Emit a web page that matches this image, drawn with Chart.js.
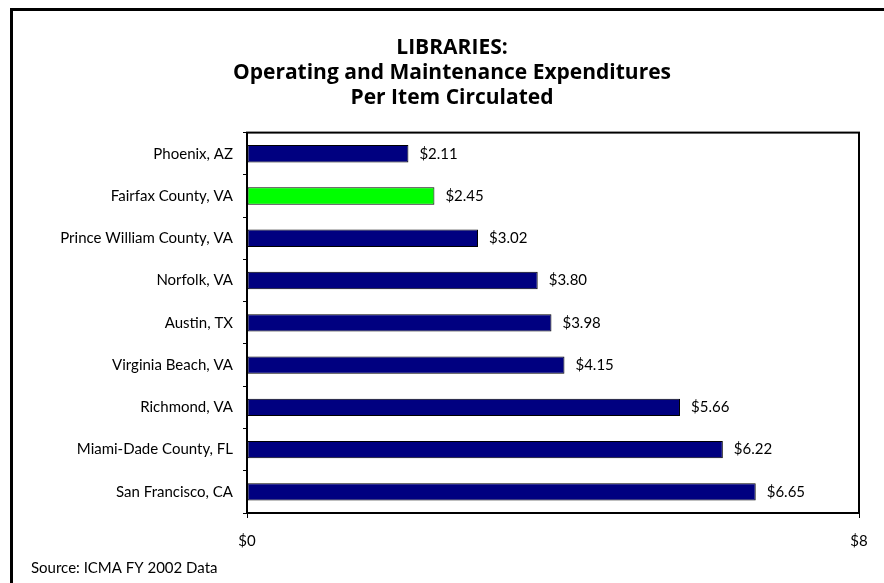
<!DOCTYPE html>
<html>
<head>
<meta charset="utf-8">
<title>Libraries: O&amp;M Expenditures per Item Circulated</title>
<script src="https://cdn.jsdelivr.net/npm/chart.js@4/dist/chart.umd.min.js"></script>
<style>
  html, body { margin: 0; padding: 0; background: #fff; }
  #wrap { width: 884px; height: 583px; position: relative; }
</style>
</head>
<body>
<div id="wrap"><canvas id="libraries_cost"></canvas></div>
<script>
const cities = ['Phoenix, AZ', 'Fairfax County, VA', 'Prince William County, VA', 'Norfolk, VA',
    'Austin, TX', 'Virginia Beach, VA', 'Richmond, VA', 'Miami-Dade County, FL', 'San Francisco, CA'];
const costPerItem = [2.11, 2.45, 3.02, 3.80, 3.98, 4.15, 5.66, 6.22, 6.65];
const highlightCity = 'Fairfax County, VA';
const axisTicks = [0, 8];

const FONT = 'Lato, "Open Sans", sans-serif';
const TITLE_FONT = '"Open Sans", Lato, sans-serif';

// outer frame (left + top only), box round the plot, source note
const framePlugin = {
    id: 'frame',
    beforeDraw(chart) {
        const ctx = chart.ctx;
        ctx.save();
        ctx.fillStyle = '#fff';
        ctx.fillRect(0, 0, chart.width, chart.height);
        ctx.fillStyle = '#000';
        ctx.fillRect(10, 8, chart.width - 10, 3);
        ctx.fillRect(10, 8, 3, chart.height - 8);
        ctx.restore();
    },
    afterDraw(chart) {
        const ctx = chart.ctx;
        const a = chart.chartArea;
        ctx.save();
        ctx.strokeStyle = '#000';
        ctx.lineWidth = 2;
        ctx.strokeRect(a.left, a.top, a.right - a.left, a.bottom - a.top);
        ctx.fillStyle = '#000';
        ctx.font = '15px ' + FONT;
        ctx.textBaseline = 'middle';
        ctx.fillText('Source: ICMA FY 2002 Data', 31, 568);
        ctx.restore();
    }
};

// value labels to the right of each bar
const valueLabels = {
    id: 'valueLabels',
    afterDatasetsDraw(chart) {
        const ctx = chart.ctx;
        const meta = chart.getDatasetMeta(0);
        ctx.save();
        ctx.fillStyle = '#000';
        ctx.font = '15px ' + FONT;
        ctx.textBaseline = 'middle';
        meta.data.forEach(function (bar, i) {
            ctx.fillText('$' + costPerItem[i].toFixed(2), bar.x + 11, bar.y);
        });
        ctx.restore();
    }
};

const data_libraries = {
    labels: cities,
    datasets: [{
        data: costPerItem,
        backgroundColor: cities.map(c => c === highlightCity ? '#00ff00' : '#000080'),
        borderColor: '#000',
        borderWidth: 1,
        borderSkipped: false,
        barPercentage: 1,
        categoryPercentage: 0.41
    }]
};

const config_libraries = {
    type: 'bar',
    data: data_libraries,
    options: {
        indexAxis: 'y',
        responsive: true,
        maintainAspectRatio: false,
        animation: false,
        layout: { padding: { left: 45, right: 25, top: 11, bottom: 19 } },
        plugins: {
            legend: { display: false },
            tooltip: { enabled: false },
            title: {
                display: true,
                text: ['LIBRARIES:', 'Operating and Maintenance Expenditures', 'Per Item Circulated'],
                color: '#000',
                font: { family: TITLE_FONT, size: 21, weight: 'bold', lineHeight: 1.2 },
                padding: { top: 24, bottom: 22 }
            }
        },
        scales: {
            x: {
                min: axisTicks[0],
                max: axisTicks[axisTicks.length - 1],
                afterBuildTicks(scale) {
                    scale.ticks = axisTicks.map(v => ({ value: v }));
                },
                ticks: {
                    color: '#000',
                    font: { family: FONT, size: 15 },
                    padding: 14,
                    callback: v => '$' + v
                },
                grid: { drawOnChartArea: false, tickLength: 5, color: '#000', tickColor: '#000' },
                border: { display: false }
            },
            y: {
                afterFit(scale) { scale.width = 202; },
                ticks: {
                    color: '#000',
                    font: { family: FONT, size: 15 },
                    padding: 10
                },
                grid: { drawOnChartArea: false, offset: true, tickLength: 4, color: '#000', tickColor: '#000' },
                border: { display: false }
            }
        }
    },
    plugins: [framePlugin, valueLabels]
};

document.addEventListener('DOMContentLoaded', function () {
    var ctx = document.getElementById('libraries_cost').getContext('2d');
    var libraries_cost = new Chart(ctx, config_libraries);
});
</script>
</body>
</html>
